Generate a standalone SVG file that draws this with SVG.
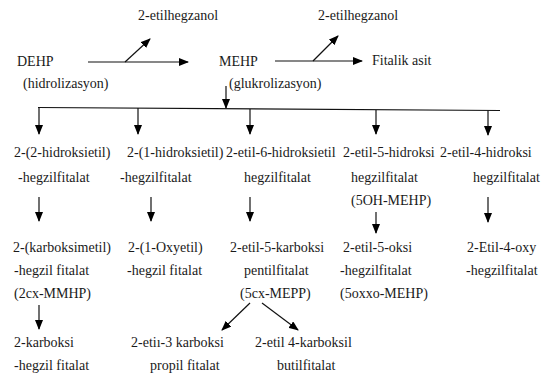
<svg xmlns="http://www.w3.org/2000/svg" width="555" height="384" viewBox="0 0 555 384" font-family="'Liberation Serif', 'Times New Roman', Times, serif">
<style>
text{font-family:'Liberation Serif','Times New Roman',Times,serif;font-size:14px;fill:#1a1a1a}
.c line{stroke:#111;stroke-width:1.2;fill:none}
.a{marker-end:url(#ah)}
</style>
<defs>
<marker id="ah" markerWidth="10" markerHeight="8" refX="9" refY="4" orient="auto" markerUnits="userSpaceOnUse">
<path d="M0,0 L10,4 L0,8 Z" fill="#000"/>
</marker>
</defs>
<g id="connectors" class="c">
<line class="a" x1="88" y1="62" x2="188" y2="62"/>
<line class="a" x1="125" y1="62" x2="150" y2="39"/>
<line class="a" x1="275" y1="61" x2="362" y2="61"/>
<line class="a" x1="313" y1="61" x2="338" y2="36"/>
<line class="a" x1="226" y1="86" x2="226" y2="108"/>
<line x1="38" y1="107.5" x2="500" y2="110.5"/>
<line class="a" x1="39" y1="108" x2="39" y2="134"/>
<line class="a" x1="138" y1="108" x2="138" y2="134"/>
<line class="a" x1="250" y1="109" x2="250" y2="134"/>
<line class="a" x1="376" y1="110" x2="376" y2="134"/>
<line class="a" x1="488" y1="110.5" x2="488" y2="135"/>
<line class="a" x1="39" y1="197" x2="39" y2="221"/>
<line class="a" x1="151" y1="197" x2="151" y2="221"/>
<line class="a" x1="250" y1="197" x2="250" y2="221"/>
<line class="a" x1="376" y1="212" x2="376" y2="233"/>
<line class="a" x1="488" y1="197" x2="488" y2="222"/>
<line class="a" x1="39" y1="305" x2="39" y2="329"/>
<line class="a" x1="250" y1="303" x2="222" y2="330"/>
<line class="a" x1="262" y1="303" x2="298" y2="330"/>
</g>
<g id="n-etilhegzanol1"><text x="138" y="20">2-etilhegzanol</text></g>
<g id="n-etilhegzanol2"><text x="318" y="20">2-etilhegzanol</text></g>
<g id="n-dehp"><text x="17" y="66">DEHP</text><text x="23" y="88">(hidrolizasyon)</text></g>
<g id="n-mehp"><text x="219" y="66">MEHP</text><text x="229" y="88">(glukrolizasyon)</text></g>
<g id="n-fitalik"><text x="372" y="65">Fitalik asit</text></g>
<g id="n-r1c1"><text x="14" y="157">2-(2-hidroksietil)</text><text x="18" y="182">-hegzilfitalat</text></g>
<g id="n-r1c2"><text x="127" y="157">2-(1-hidroksietil)</text><text x="120" y="182">-hegzilfitalat</text></g>
<g id="n-r1c3"><text x="226" y="157">2-etil-6-hidroksietil</text><text x="244" y="182">hegzilfitalat</text></g>
<g id="n-r1c4"><text x="343" y="157">2-etil-5-hidroksi</text><text x="351" y="182">hegzilfitalat</text><text x="351" y="205">(5OH-MEHP)</text></g>
<g id="n-r1c5"><text x="440" y="157">2-etil-4-hidroksi</text><text x="473" y="182">hegzilfitalat</text></g>
<g id="n-r2c1"><text x="13" y="252">2-(karboksimetil)</text><text x="14" y="275">-hegzil fitalat</text><text x="14" y="298">(2cx-MMHP)</text></g>
<g id="n-r2c2"><text x="128" y="252">2-(1-Oxyetil)</text><text x="127" y="275">-hegzil fitalat</text></g>
<g id="n-r2c3"><text x="230" y="252">2-etil-5-karboksi</text><text x="244" y="275">pentilfitalat</text><text x="240" y="298">(5cx-MEPP)</text></g>
<g id="n-r2c4"><text x="343" y="252">2-etil-5-oksi</text><text x="340" y="275">-hegzilfitalat</text><text x="340" y="298">(5oxxo-MEHP)</text></g>
<g id="n-r2c5"><text x="467" y="252">2-Etil-4-oxy</text><text x="466" y="275">-hegzilfitalat</text></g>
<g id="n-r3c1"><text x="14" y="347">2-karboksi</text><text x="14" y="370">-hegzil fitalat</text></g>
<g id="n-r3c2"><text x="131" y="347">2-etiı-3 karboksi</text><text x="150" y="370">propil fitalat</text></g>
<g id="n-r3c3"><text x="255" y="347">2-etil 4-karboksil</text><text x="277" y="370">butilfitalat</text></g>
</svg>
